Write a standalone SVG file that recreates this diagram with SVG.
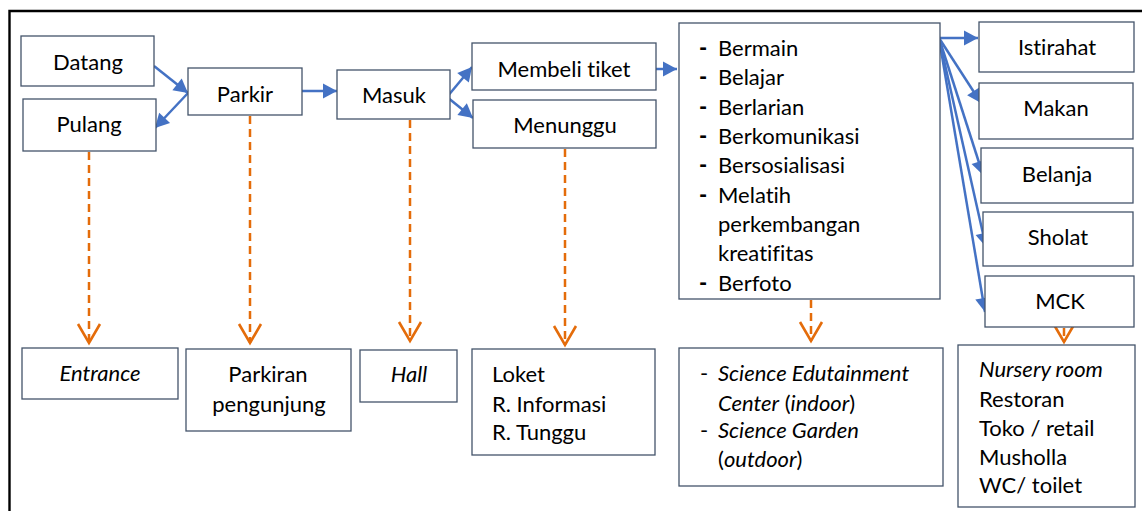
<svg xmlns="http://www.w3.org/2000/svg" width="1142" height="511" viewBox="0 0 1142 511">
<style>
  .box { fill: #ffffff; stroke: #44546A; stroke-width: 1.3; }
  .t { font-family: Lato, "Noto Sans", "Liberation Sans", sans-serif; font-size: 22px; fill: #000000; font-variant-ligatures: none; font-feature-settings: "liga" 0, "clig" 0; }
  .c { text-anchor: middle; }
  .i { font-style: italic; }
  .b { font-weight: 900; }
  .flow { stroke: #4472C4; stroke-width: 2.5; fill: none; }
  .dash { stroke: #E46C0A; stroke-width: 2.5; stroke-dasharray: 8 5; fill: none; }
</style>
<defs>
  <marker id="ah" markerUnits="userSpaceOnUse" viewBox="-15 -8 16 16" refX="0" refY="0" markerWidth="16" markerHeight="16" orient="auto" overflow="visible">
    <path d="M0,0 L-14,-7.5 L-14,7.5 Z" fill="#4472C4" stroke="none"/>
  </marker>
  <marker id="oh" markerUnits="userSpaceOnUse" viewBox="-22 -13 24 26" refX="0" refY="0" markerWidth="24" markerHeight="26" orient="auto" overflow="visible">
    <path d="M-19,-11 L0,0 L-19,11" fill="none" stroke="#E46C0A" stroke-width="2.6" stroke-dasharray="none"/>
  </marker>
</defs>
<rect width="1142" height="511" fill="#ffffff"/>
<path d="M9.5,520 L9.5,11 L1150,11" fill="none" stroke="#000000" stroke-width="2.4"/>

<g id="connectors">
  <line class="flow" x1="154" y1="66" x2="188" y2="93" marker-end="url(#ah)"/>
  <line class="flow" x1="188" y1="93" x2="155" y2="128" marker-end="url(#ah)"/>
  <line class="flow" x1="297" y1="91" x2="337" y2="91" marker-end="url(#ah)"/>
  <line class="flow" x1="447" y1="97" x2="472" y2="67" marker-end="url(#ah)"/>
  <line class="flow" x1="447" y1="97" x2="473" y2="118" marker-end="url(#ah)"/>
  <line class="flow" x1="654" y1="69" x2="677" y2="69" marker-end="url(#ah)"/>
  <line class="flow" x1="939" y1="38" x2="978" y2="38" marker-end="url(#ah)"/>
  <line class="flow" x1="939" y1="38" x2="981" y2="103" marker-end="url(#ah)"/>
  <line class="flow" x1="939" y1="38" x2="983" y2="175" marker-end="url(#ah)"/>
  <line class="flow" x1="939" y1="38" x2="986" y2="247" marker-end="url(#ah)"/>
  <line class="flow" x1="939" y1="38" x2="985" y2="312" marker-end="url(#ah)"/>

  <line class="dash" x1="89" y1="152" x2="89" y2="343" marker-end="url(#oh)"/>
  <line class="dash" x1="250" y1="116" x2="250" y2="343" marker-end="url(#oh)"/>
  <line class="dash" x1="410" y1="120" x2="410" y2="341" marker-end="url(#oh)"/>
  <line class="dash" x1="565" y1="149" x2="565" y2="345" marker-end="url(#oh)"/>
  <line class="dash" x1="811" y1="300" x2="811" y2="341" marker-end="url(#oh)"/>
  <line class="dash" x1="1064" y1="328" x2="1064" y2="342" marker-end="url(#oh)"/>
</g>

<g id="datang"><rect class="box" x="21" y="36" width="133" height="50"/><text class="t c" x="88" y="70">Datang</text></g>
<g id="pulang"><rect class="box" x="23" y="99" width="133" height="52"/><text class="t c" x="89" y="132">Pulang</text></g>
<g id="parkir"><rect class="box" x="188" y="68" width="114" height="47"/><text class="t c" x="245" y="102">Parkir</text></g>
<g id="masuk"><rect class="box" x="337" y="70" width="113" height="49"/><text class="t c" x="394" y="103">Masuk</text></g>
<g id="membeli"><rect class="box" x="472" y="43" width="184" height="47"/><text class="t c" x="564" y="77">Membeli tiket</text></g>
<g id="menunggu"><rect class="box" x="473" y="100" width="183" height="48"/><text class="t c" x="565" y="133">Menunggu</text></g>

<g id="aktivitas">
  <rect class="box" x="679" y="23" width="261" height="276"/>
  <text class="t b" x="699" y="56">-</text><text class="t" x="718" y="56">Bermain</text>
  <text class="t b" x="699" y="85">-</text><text class="t" x="718" y="85">Belajar</text>
  <text class="t b" x="699" y="115">-</text><text class="t" x="718" y="115">Berlarian</text>
  <text class="t b" x="699" y="144">-</text><text class="t" x="718" y="144">Berkomunikasi</text>
  <text class="t b" x="699" y="173">-</text><text class="t" x="718" y="173">Bersosialisasi</text>
  <text class="t b" x="699" y="203">-</text><text class="t" x="718" y="203">Melatih</text>
  <text class="t" x="718" y="232">perkembangan</text>
  <text class="t" x="718" y="261">kreatifitas</text>
  <text class="t b" x="699" y="291">-</text><text class="t" x="718" y="291">Berfoto</text>
</g>

<g id="istirahat"><rect class="box" x="979" y="22" width="155" height="50"/><text class="t c" x="1057" y="55">Istirahat</text></g>
<g id="makan"><rect class="box" x="979" y="83" width="154" height="56"/><text class="t c" x="1056" y="116">Makan</text></g>
<g id="belanja"><rect class="box" x="981" y="148" width="152" height="55"/><text class="t c" x="1057" y="182">Belanja</text></g>
<g id="sholat"><rect class="box" x="983" y="212" width="150" height="54"/><text class="t c" x="1058" y="245">Sholat</text></g>
<g id="mck"><rect class="box" x="985" y="276" width="149" height="51"/><text class="t c" x="1060" y="309">MCK</text></g>

<g id="entrance"><rect class="box" x="22" y="348" width="156" height="51"/><text class="t c i" x="100" y="381">Entrance</text></g>
<g id="parkiran"><rect class="box" x="186" y="349" width="165" height="82"/><text class="t c" x="268" y="382">Parkiran</text><text class="t c" x="269" y="412">pengunjung</text></g>
<g id="hall"><rect class="box" x="360" y="350" width="97" height="52"/><text class="t c i" x="409" y="382">Hall</text></g>
<g id="loket"><rect class="box" x="472" y="349" width="183" height="106"/>
  <text class="t" x="492" y="382">Loket</text>
  <text class="t" x="492" y="412">R. Informasi</text>
  <text class="t" x="492" y="440">R. Tunggu</text>
</g>
<g id="science"><rect class="box" x="679" y="348" width="264" height="138"/>
  <text class="t" x="700" y="381">-</text><text class="t i" x="718" y="381">Science Edutainment</text>
  <text class="t" x="718" y="411"><tspan class="i">Center</tspan> (<tspan class="i">indoor</tspan>)</text>
  <text class="t" x="700" y="438">-</text><text class="t i" x="718" y="438">Science Garden</text>
  <text class="t" x="718" y="467">(<tspan class="i">outdoor</tspan>)</text>
</g>
<g id="fasilitas"><rect class="box" x="958" y="345" width="177" height="162"/>
  <text class="t i" x="979" y="377">Nursery room</text>
  <text class="t" x="979" y="407">Restoran</text>
  <text class="t" x="979" y="436">Toko / retail</text>
  <text class="t" x="979" y="465">Musholla</text>
  <text class="t" x="979" y="493">WC/ toilet</text>
</g>
</svg>
